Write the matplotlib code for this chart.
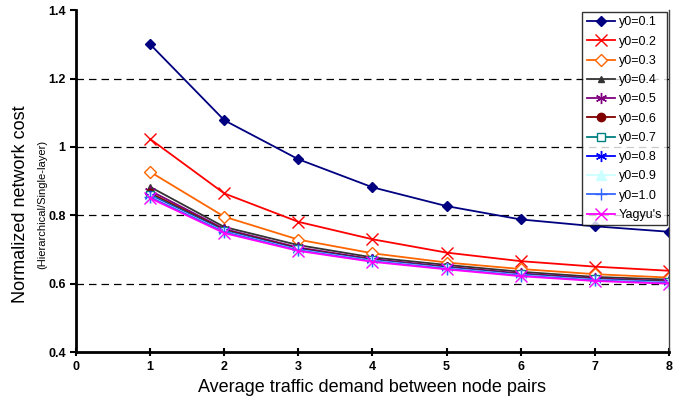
import matplotlib
matplotlib.use('Agg')
import matplotlib.pyplot as plt

plt.rcParams['font.family'] = 'Liberation Sans'

# traffic demand (x) and normalized cost per y0 setting
demand = [1, 2, 3, 4, 5, 6, 7, 8]
cost_01 = [1.300, 1.078, 0.964, 0.882, 0.827, 0.788, 0.768, 0.752]
cost_02 = [1.023, 0.864, 0.781, 0.730, 0.691, 0.666, 0.650, 0.638]
cost_03 = [0.927, 0.796, 0.729, 0.689, 0.662, 0.643, 0.628, 0.618]
cost_04 = [0.883, 0.766, 0.713, 0.677, 0.655, 0.635, 0.620, 0.612]
cost_05 = [0.872, 0.760, 0.706, 0.672, 0.650, 0.630, 0.616, 0.607]
cost_06 = [0.865, 0.757, 0.703, 0.670, 0.648, 0.628, 0.614, 0.606]
cost_07 = [0.860, 0.755, 0.701, 0.669, 0.647, 0.627, 0.613, 0.605]
cost_08 = [0.857, 0.753, 0.700, 0.668, 0.646, 0.626, 0.612, 0.604]
cost_09 = [0.855, 0.752, 0.699, 0.667, 0.645, 0.625, 0.611, 0.603]
cost_10 = [0.853, 0.751, 0.698, 0.666, 0.644, 0.624, 0.610, 0.602]
cost_yagyu = [0.850, 0.748, 0.696, 0.664, 0.642, 0.622, 0.608, 0.600]

labels = ['y0=0.1', 'y0=0.2', 'y0=0.3', 'y0=0.4', 'y0=0.5', 'y0=0.6',
          'y0=0.7', 'y0=0.8', 'y0=0.9', 'y0=1.0', "Yagyu's"]

series = [cost_01, cost_02, cost_03, cost_04, cost_05, cost_06,
          cost_07, cost_08, cost_09, cost_10, cost_yagyu]

styles = [
    dict(color='#000080', marker='D', ms=5),
    dict(color='#FF0000', marker='x', ms=8, mew=1),
    dict(color='#FF6600', marker='D', ms=6, mfc='white', mew=1),
    dict(color='#333333', marker='^', ms=4),
    dict(color='#800080', marker=(6, 2, 0), ms=8, mew=1),
    dict(color='#800000', marker='o', ms=6),
    dict(color='#008080', marker='s', ms=6, mfc='white', mew=1),
    dict(color='#0000FF', marker=(6, 2, 0), ms=8, mew=1),
    dict(color='#CCFFFF', marker='^', ms=7),
    dict(color='#3366FF', marker='+', ms=8, mew=1),
    dict(color='#FF00FF', marker='x', ms=8, mew=1),
]

fig = plt.figure(figsize=(6.86, 4.08), dpi=100)
ax = fig.add_axes([0.111, 0.137, 0.864, 0.838])

for ys, lab, st in zip(series, labels, styles):
    ax.plot(demand, ys, label=lab, lw=1.3, **st)

ax.set_xlim(0, 8)
ax.set_ylim(0.4, 1.4)
ax.set_xticks(range(0, 9))
ax.set_yticks([0.4, 0.6, 0.8, 1.0, 1.2, 1.4])
ax.set_yticklabels(['0.4', '0.6', '0.8', '1', '1.2', '1.4'])
for y in [0.6, 0.8, 1.0, 1.2]:
    ax.axhline(y, color='black', lw=0.9, ls=(0, (6, 4)), zorder=0)

for lbl in ax.get_xticklabels() + ax.get_yticklabels():
    lbl.set_fontweight('bold')
    lbl.set_fontsize(9)
ax.tick_params(axis='both', direction='out', length=4, width=1.5)
ax.tick_params(axis='x', direction='inout', length=6)
ax.spines['top'].set_visible(False)
ax.spines['left'].set_linewidth(2)
ax.spines['bottom'].set_linewidth(2)
ax.spines['right'].set_linewidth(1)
ax.spines['right'].set_color('#444444')

ax.set_xlabel('Average traffic demand between node pairs', fontsize=13, labelpad=4)
fig.text(0.030, 0.50, 'Normalized network cost', rotation=90, fontsize=13,
         ha='center', va='center')
fig.text(0.061, 0.50, '(Hierarchical/Single-layer)', rotation=90, fontsize=8,
         ha='center', va='center')

leg = ax.legend(loc='upper right', fontsize=9, frameon=True, fancybox=False,
                borderaxespad=0.15, handlelength=2.3, labelspacing=0.58,
                borderpad=0.35, handletextpad=0.3)
leg.get_frame().set_edgecolor('black')
leg.get_frame().set_linewidth(1)

fig.savefig('out.png', dpi=100)
